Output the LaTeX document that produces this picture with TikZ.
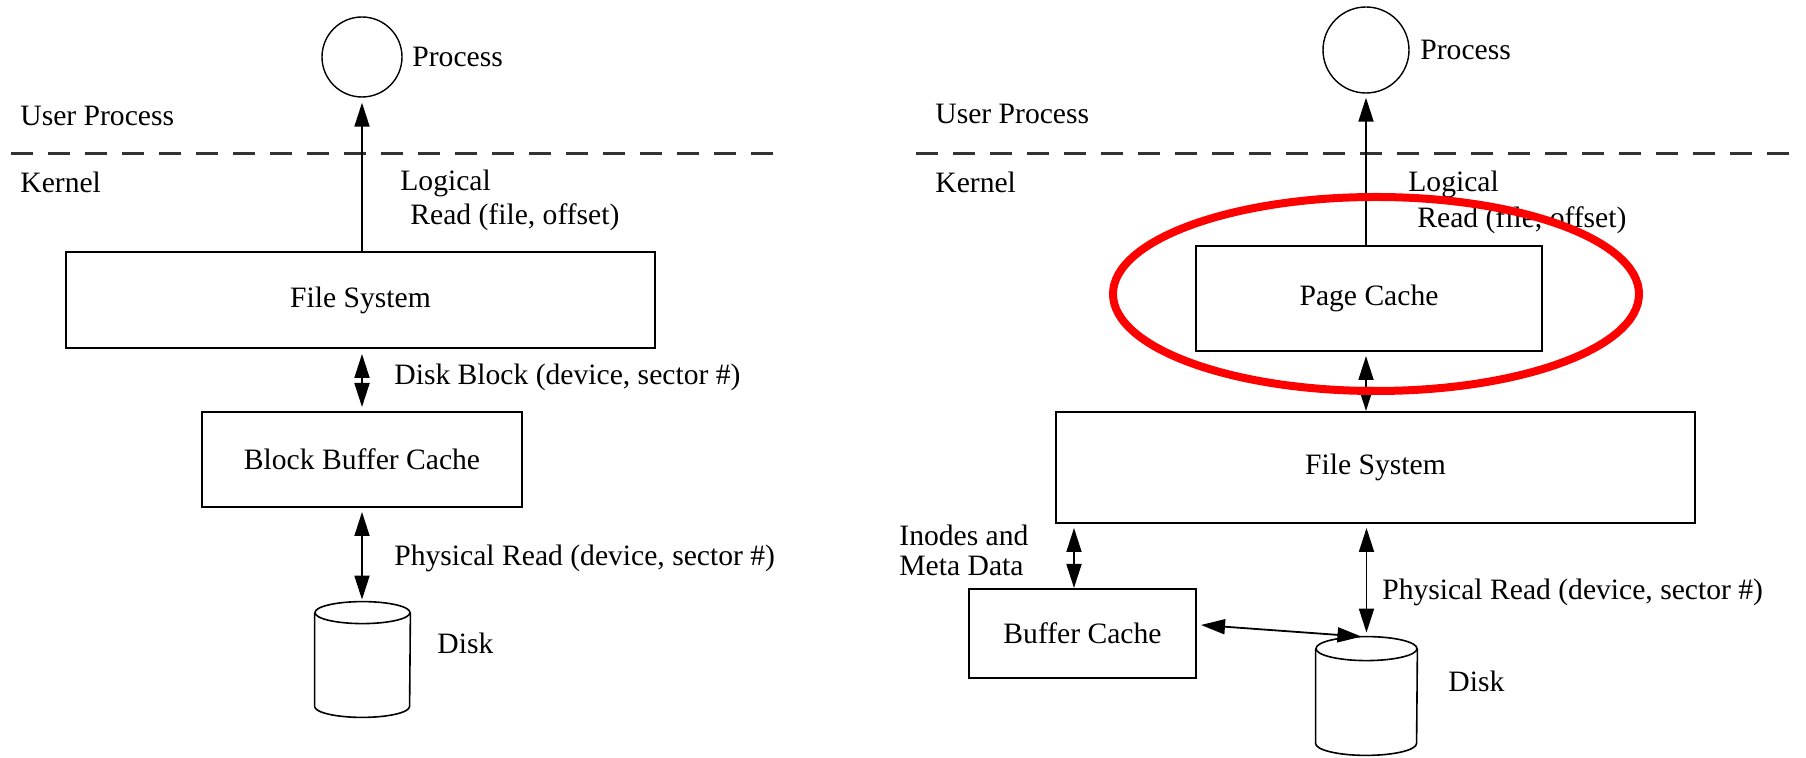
\documentclass[tikz,border=0pt]{standalone}
\usepackage{fontspec}
\setmainfont{Liberation Serif}
\usetikzlibrary{arrows.meta}
\begin{document}
\begin{tikzpicture}[x=0.5pt,y=0.5pt,
  every node/.style={font=\fontsize{14.8}{16}\selectfont, inner sep=0pt},
  box/.style={draw, line width=1pt, rectangle},
  proc/.style={draw, circle, line width=0.7pt},
  lbl/.style={anchor=west},
  tip/.tip={Triangle[length=12pt,width=7.5pt]},
  conn/.style={line width=0.9pt, -tip},
  dconn/.style={line width=0.9pt, tip-tip},
  sep/.style={dash pattern=on 11pt off 7.5pt, line width=1.5pt, draw=black!80},
  cyl/.style={line width=0.8pt},
  hilite/.style={draw=red, line width=4pt}]
\useasboundingbox (0,0) rectangle (1806,-758);

% ---------- left panel ----------
\node[proc, minimum size=40pt] (proc1) at (362,-57) {};
\node[lbl] (proc1t) at (412,-57) {Process};
\node[lbl] (user1) at (20,-116) {User Process};
\coordinate (sepL1) at (11,-154);
\coordinate (sepR1) at (787,-154);
\draw[sep] (sepL1) -- (sepR1);
\node[lbl] (kern1) at (20,-182) {Kernel};
\node[lbl] (log1) at (400,-183) {Logical};
\node[lbl] (read1) at (410,-217) {Read (file, offset)};

\node[box, minimum width=294.5pt, minimum height=48pt] (fs1) at (360.5,-300) {File System};
\node[box, minimum width=160pt, minimum height=47.5pt] (bbc1) at (362,-459.5) {Block Buffer Cache};
\node[lbl] (db1) at (394,-377) {Disk Block (device, sector \#)};
\node[lbl] (pr1) at (394,-558) {Physical Read (device, sector \#)};

\node[minimum width=47.5pt, minimum height=57.5pt] (disk1) at (362.5,-659.5) {};
\draw[cyl] ([yshift=-5.5pt]disk1.north) ellipse [x radius=23.75pt, y radius=5.5pt];
\draw[cyl] ([yshift=-5.5pt]disk1.north west) -- ([yshift=5.5pt]disk1.south west)
   arc[start angle=180, end angle=360, x radius=23.75pt, y radius=5.5pt]
   -- ([yshift=-5.5pt]disk1.north east);
\node[lbl] (disk1t) at (437,-643) {Disk};

\draw[conn, shorten >=2.5pt] (fs1.north -| proc1.south) -- (proc1.south);
\draw[dconn, shorten <=2.5pt, shorten >=2pt] (fs1.south -| proc1.south) -- (bbc1.north -| proc1.south);
\draw[dconn, shorten <=2pt, shorten >=1pt] (bbc1.south -| proc1.south) -- (disk1.north -| proc1.south);

% ---------- right panel ----------
\node[proc, minimum size=43pt] (proc2) at (1366,-50) {};
\node[lbl] (proc2t) at (1420,-50) {Process};
\node[lbl] (user2) at (935,-114) {User Process};
\coordinate (sepL2) at (916,-154);
\coordinate (sepR2) at (1790,-154);
\draw[sep] (sepL2) -- (sepR2);
\node[lbl] (kern2) at (935,-182) {Kernel};
\node[lbl] (log2) at (1408,-184) {Logical};
\node[lbl] (read2) at (1417,-220) {Read (file, offset)};

\node[box, minimum width=173pt, minimum height=52.5pt] (pc) at (1369,-298.5) {Page Cache};
\node[box, minimum width=319.5pt, minimum height=55.5pt] (fs2) at (1375.5,-467.5) {File System};
\node[box, minimum width=113.5pt, minimum height=44.5pt] (bc) at (1082.5,-633.5) {Buffer Cache};
\node[anchor=west, align=left, font=\fontsize{14.8}{15}\selectfont] (inode) at (899,-550) {Inodes and\\Meta Data};
\node[lbl] (pr2) at (1382,-592) {Physical Read (device, sector \#)};

\node[minimum width=50.5pt, minimum height=59pt] (disk2) at (1366.5,-696) {};
\draw[cyl] ([yshift=-6pt]disk2.north) ellipse [x radius=25.25pt, y radius=6pt];
\draw[cyl] ([yshift=-6pt]disk2.north west) -- ([yshift=6pt]disk2.south west)
   arc[start angle=180, end angle=360, x radius=25.25pt, y radius=6pt]
   -- ([yshift=-6pt]disk2.north east);
\node[lbl] (disk2t) at (1448,-681) {Disk};

\draw[conn, shorten >=2pt] (pc.north -| proc2.south) -- (proc2.south);
\draw[dconn, shorten <=2pt] (pc.south -| proc2.south) -- (fs2.north -| proc2.south);
\draw[dconn, shorten <=2pt] (fs2.south -| 1074,0) -- (bc.north -| 1074,0);
\draw[dconn, shorten <=2pt, shorten >=2pt] (fs2.south -| disk2.north) -- (disk2.north);
\draw[dconn] ([xshift=2pt,yshift=4.25pt]bc.east) -- ([xshift=-2.5pt]disk2.north);

% highlight
\coordinate (hl) at (1376,-294);
\draw[hilite] (hl) ellipse [x radius=131.5pt, y radius=48.5pt];
\end{tikzpicture}
\end{document}
